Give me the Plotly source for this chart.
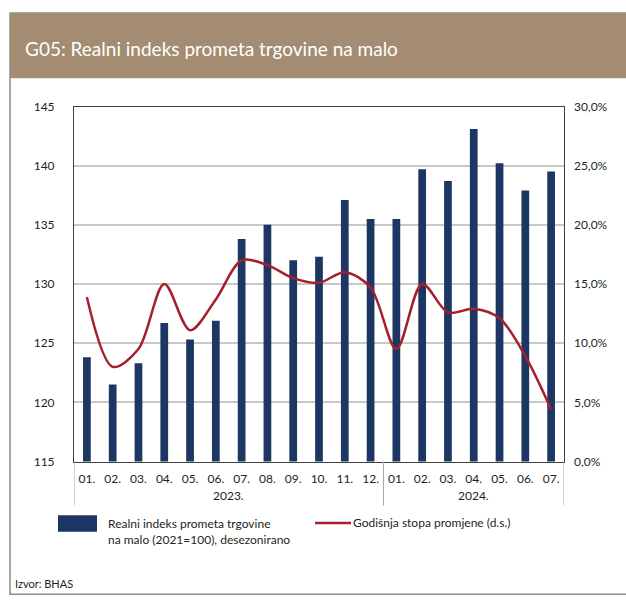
import plotly.graph_objects as go

# ---- data ----
months = ["01.", "02.", "03.", "04.", "05.", "06.", "07.", "08.", "09.", "10.", "11.", "12.",
          "01.", "02.", "03.", "04.", "05.", "06.", "07."]
years = ["2023."] * 12 + ["2024."] * 7
index_values = [123.8, 121.5, 123.3, 126.7, 125.3, 126.9, 133.8, 135.0, 132.0, 132.3, 137.1, 135.5,
                135.5, 139.7, 138.7, 143.1, 140.2, 137.9, 139.5]
growth_rates = [13.9, 8.0, 9.5, 15.0, 11.1, 13.7, 17.0, 16.6, 15.5, 15.1, 16.0, 14.7,
                9.5, 15.0, 12.6, 12.9, 12.1, 8.9, 4.4]
left_ticks = [115, 120, 125, 130, 135, 140, 145]
right_ticks = [0, 5, 10, 15, 20, 25, 30]
right_tick_labels = ["0,0%", "5,0%", "10,0%", "15,0%", "20,0%", "25,0%", "30,0%"]

title_text = "G05: Realni indeks prometa trgovine na malo"
bar_name = "Realni indeks prometa trgovine<br>na malo (2021=100), desezonirano"
line_name = "Godišnja stopa promjene (d.s.)"
source_text = "Izvor: BHAS"

categories = [m + y for m, y in zip(months, years)]

W, H = 626, 607
FONT = "Lato, 'Open Sans', sans-serif"
TXT = "#231F20"
BAR_COLOR = "#1D3764"
LINE_COLOR = "#A51F2C"

def px(x):
    return x / W

def py(y):
    return (H - y) / H

fig = go.Figure()
fig.add_trace(go.Bar(x=categories, y=index_values, name=bar_name, marker_color=BAR_COLOR,
                     marker_line_width=0, width=0.3, yaxis="y", showlegend=False))
fig.add_trace(go.Scatter(x=categories, y=growth_rates, name=line_name, mode="lines",
                         line=dict(color=LINE_COLOR, width=2.5, shape="spline", smoothing=0.9),
                         yaxis="y2", showlegend=False))

shapes = []
annotations = []

# outer frame and title bar
shapes.append(dict(type="rect", xref="paper", yref="paper", x0=px(10), x1=px(640), y0=py(601), y1=py(5),
                   line=dict(color="#8C8C8C", width=1.5), fillcolor="rgba(0,0,0,0)", layer="below"))
shapes.append(dict(type="rect", xref="paper", yref="paper", x0=px(10), x1=px(640), y0=py(72), y1=py(5),
                   line=dict(width=0), fillcolor="#A38C71", layer="below"))
annotations.append(dict(text=title_text, xref="paper", yref="paper", x=px(23), y=py(42),
                        xanchor="left", yanchor="middle", showarrow=False,
                        font=dict(family=FONT, size=19, color="white")))

# category dividers below the axis
n12 = years.count("2023.")
for xv in [-0.5, n12 - 0.5, len(categories) - 0.5]:
    shapes.append(dict(type="line", xref="x", yref="paper", x0=xv, x1=xv, y0=py(510), y1=py(465),
                       line=dict(color="#A6A6A6", width=1)))

# year labels
for yr in ["2023.", "2024."]:
    idx = [i for i, v in enumerate(years) if v == yr]
    annotations.append(dict(text=yr, xref="x", yref="paper", x=(idx[0] + idx[-1]) / 2, y=py(500),
                            xanchor="center", yanchor="middle", showarrow=False,
                            font=dict(family=FONT, size=12, color=TXT)))

# legend (custom)
shapes.append(dict(type="rect", xref="paper", yref="paper", x0=px(58), x1=px(97), y0=py(537), y1=py(520),
                   line=dict(width=0), fillcolor=BAR_COLOR))
annotations.append(dict(text=bar_name, xref="paper", yref="paper", x=px(106), y=py(537),
                        xanchor="left", yanchor="middle", align="left", showarrow=False,
                        font=dict(family=FONT, size=12, color=TXT)))
shapes.append(dict(type="line", xref="paper", yref="paper", x0=px(315), x1=px(351), y0=py(528), y1=py(528),
                   line=dict(color=LINE_COLOR, width=2.5)))
annotations.append(dict(text=line_name, xref="paper", yref="paper", x=px(351), y=py(528),
                        xanchor="left", yanchor="middle", showarrow=False,
                        font=dict(family=FONT, size=12, color=TXT)))

# source
annotations.append(dict(text=source_text, xref="paper", yref="paper", x=px(13), y=py(590),
                        xanchor="left", yanchor="middle", showarrow=False,
                        font=dict(family=FONT, size=11, color=TXT)))

fig.update_layout(
    width=W, height=H, autosize=False,
    margin=dict(l=0, r=0, t=0, b=0),
    paper_bgcolor="white", plot_bgcolor="white",
    font=dict(family=FONT, size=12, color=TXT),
    xaxis=dict(type="category", domain=[px(74), px(564)], range=[-0.5, len(categories) - 0.5],
               tickvals=categories, ticktext=months, showgrid=False,
               showline=True, mirror=True, linecolor="#404040", linewidth=1,
               ticks="", ticklabelstandoff=6, tickfont=dict(size=12, color=TXT)),
    yaxis=dict(domain=[py(465), py(101)], range=[115, 145], tickvals=left_ticks,
               showgrid=True, gridcolor="#C8C8C8", gridwidth=1.5,
               showline=True, mirror=True, linecolor="#404040", linewidth=1,
               ticks="", ticklabelstandoff=16, tickfont=dict(size=12, color=TXT), zeroline=False),
    yaxis2=dict(overlaying="y", side="right", range=[0, 30], tickvals=right_ticks,
                ticktext=right_tick_labels, showgrid=False, showline=False, zeroline=False,
                ticks="", ticklabelstandoff=9, tickfont=dict(size=12, color=TXT)),
    shapes=shapes, annotations=annotations,
    bargap=0.7,
)

fig.write_html("out.html", config={"displayModeBar": False},
               post_script="document.body.style.margin='0';document.documentElement.style.overflow='hidden';")
